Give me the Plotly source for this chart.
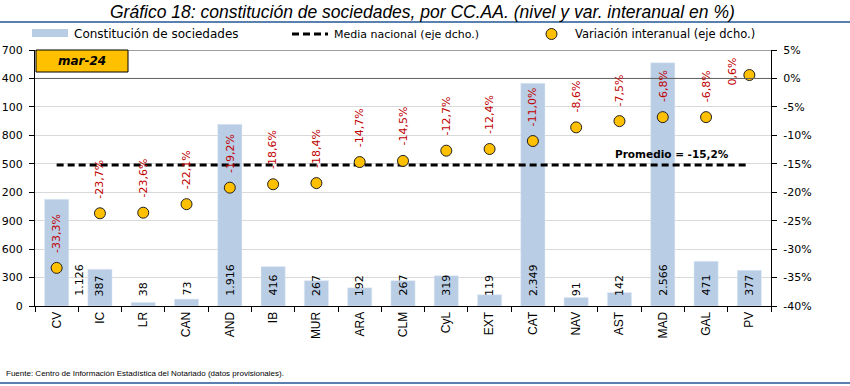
import plotly.graph_objects as go

categories = ["CV", "IC", "LR", "CAN", "AND", "IB", "MUR", "ARA", "CLM", "CyL",
              "EXT", "CAT", "NAV", "AST", "MAD", "GAL", "PV"]
constituciones = [1126, 387, 38, 73, 1916, 416, 267, 192, 267, 319,
                  119, 2349, 91, 142, 2566, 471, 377]
variacion = [-33.3, -23.7, -23.6, -22.1, -19.2, -18.6, -18.4, -14.7, -14.5, -12.7,
             -12.4, -11.0, -8.6, -7.5, -6.8, -6.8, 0.6]
media_nacional = -15.2
left_tickvals = [0, 300, 600, 900, 1200, 1500, 1800, 2100, 2400, 2700]
left_ticktext = ["0", "300", "600", "900", "200", "500", "800", "100", "400", "700"]
right_tickvals = [5, 0, -5, -10, -15, -20, -25, -30, -35, -40]
period_label = "mar-24"

W, H = 850, 386
L, R, T, B = 35, 79, 50, 80
pw, ph = W - L - R, H - T - B

def px(x):
    return (x - L) / pw

def py(y):
    return (H - B - y) / ph

def es_num(v):
    return f"{v:,.0f}".replace(",", ".")

def es_pct(v):
    return f"{v:.1f}".replace(".", ",") + "%"

BAR = "#B9CDE5"
GOLD = "#FFC000"
RED = "#C00000"
FONT = "DejaVu Sans"

fig = go.Figure()
fig.add_trace(go.Bar(x=categories, y=constituciones, marker_color=BAR, width=0.56,
                     yaxis="y", showlegend=False, hoverinfo="x+y"))
fig.add_trace(go.Scatter(x=categories, y=[media_nacional] * len(categories), yaxis="y2",
                         mode="lines", line=dict(color="black", width=3, dash="7px,4px"),
                         showlegend=False))
fig.add_trace(go.Scatter(x=categories, y=variacion, yaxis="y2", mode="markers",
                         marker=dict(color=GOLD, size=11, line=dict(color="#202020", width=1)),
                         showlegend=False))

annotations = []
for i, (c, v) in enumerate(zip(categories, constituciones)):
    annotations.append(dict(x=c, y=0, xref="x", yref="y", text=es_num(v), showarrow=False,
                            textangle=-90, yanchor="bottom", xanchor="center", yshift=8,
                            xshift=22 if i == 0 else 0,
                            font=dict(family=FONT, size=11, color="black")))
for i, (c, v) in enumerate(zip(categories, variacion)):
    if v > 0:
        annotations.append(dict(x=c, y=v, xref="x", yref="y2", text=es_pct(v), showarrow=False,
                                textangle=-90, yanchor="middle", xanchor="center",
                                xshift=-17, yshift=4,
                                font=dict(family=FONT, size=11, color=RED)))
    else:
        annotations.append(dict(x=c, y=v, xref="x", yref="y2", text=es_pct(v), showarrow=False,
                                textangle=-90, yanchor="bottom", xanchor="center", yshift=13,
                                font=dict(family=FONT, size=11, color=RED)))
annotations.append(dict(x=px(672), y=media_nacional, xref="paper", yref="y2",
                        xanchor="center", yanchor="middle",
                        text="<b>Promedio = " + es_pct(media_nacional) + "</b>",
                        showarrow=False, yshift=11,
                        font=dict(family=FONT, size=10.5, color="black")))
annotations.append(dict(x=px(82), y=py(61), xref="paper", yref="paper",
                        xanchor="center", yanchor="middle",
                        text="<b><i>" + period_label + "</i></b>", showarrow=False,
                        font=dict(family=FONT, size=12, color="black")))
# title
annotations.append(dict(x=px(422), y=py(12), xref="paper", yref="paper",
                        xanchor="center", yanchor="middle", showarrow=False,
                        text="<i>Gráfico 18: constitución de sociedades, por CC.AA. (nivel y var. interanual en %)</i>",
                        font=dict(family="Liberation Sans", size=17.5, color="black")))
# legend texts
for x0, t, s in [(72, "Constitución de sociedades", 12), (332, "Media nacional (eje dcho.)", 11),
                 (573, "Variación interanual (eje dcho.)", 11.5)]:
    annotations.append(dict(x=px(x0), y=py(34), xref="paper", yref="paper", xanchor="left",
                            yanchor="middle", showarrow=False, text=t,
                            font=dict(family=FONT, size=s, color="black")))
# source
annotations.append(dict(x=px(4), y=py(373), xref="paper", yref="paper", xanchor="left",
                        yanchor="middle", showarrow=False,
                        text="Fuente: Centro de Información Estadística del Notariado (datos provisionales).",
                        font=dict(family="Liberation Sans", size=8, color="black")))

shapes = [
    dict(type="line", xref="paper", yref="paper", x0=px(0), x1=px(W), y0=py(22), y1=py(22),
         line=dict(color="#5A80B0", width=2)),
    dict(type="line", xref="paper", yref="paper", x0=px(0), x1=px(W), y0=py(383), y1=py(383),
         line=dict(color="#5A80B0", width=2)),
    dict(type="line", xref="paper", yref="y2", x0=0, x1=1, y0=5, y1=5,
         line=dict(color="#404040", width=1)),
    dict(type="line", xref="paper", yref="y2", x0=0, x1=1, y0=0, y1=0,
         line=dict(color="#606060", width=1)),
    dict(type="rect", xref="paper", yref="paper", x0=px(36), x1=px(128), y0=py(72), y1=py(50),
         fillcolor=GOLD, line=dict(color="black", width=1)),
    dict(type="rect", xref="paper", yref="paper", x0=px(32), x1=px(68), y0=py(37), y1=py(29),
         fillcolor=BAR, line=dict(width=0)),
    dict(type="line", xref="paper", yref="paper", x0=px(292), x1=px(328), y0=py(34), y1=py(34),
         line=dict(color="black", width=3, dash="7px,4px")),
    dict(type="circle", xref="paper", yref="paper", x0=px(546), x1=px(557), y0=py(39.5), y1=py(28.5),
         fillcolor=GOLD, line=dict(color="#202020", width=1)),
]

fig.update_layout(
    width=W, height=H,
    margin=dict(l=L, r=R, t=T, b=B, autoexpand=False),
    paper_bgcolor="white", plot_bgcolor="white",
    font=dict(family=FONT, size=11, color="black"),
    xaxis=dict(type="category", showline=True, linecolor="black", linewidth=1,
               ticks="outside", ticklen=5, tickcolor="black", tickson="boundaries",
               tickangle=-90, tickfont=dict(family="Liberation Sans", size=12),
               showgrid=False, range=[-0.5, len(categories) - 0.5]),
    yaxis=dict(range=[0, 2700], tickvals=left_tickvals, ticktext=left_ticktext,
               showline=True, linecolor="black", linewidth=1, ticks="outside", ticklen=5,
               tickcolor="black", showgrid=True, gridcolor="#D9D9D9", gridwidth=1,
               zeroline=False, ticklabelstandoff=4, tickfont=dict(family=FONT, size=11)),
    yaxis2=dict(range=[-40, 5], overlaying="y", side="right", tickvals=right_tickvals,
                ticktext=[f"{v}%" for v in right_tickvals],
                showline=True, linecolor="black", linewidth=1, ticks="outside", ticklen=5,
                tickcolor="black", showgrid=False, zeroline=False, ticklabelstandoff=4,
                tickfont=dict(family=FONT, size=11)),
    annotations=annotations,
    shapes=shapes,
)

fig.write_html("out.html", config={"displayModeBar": False},
               post_script="document.body.style.margin='0px';document.body.style.overflow='hidden';")
